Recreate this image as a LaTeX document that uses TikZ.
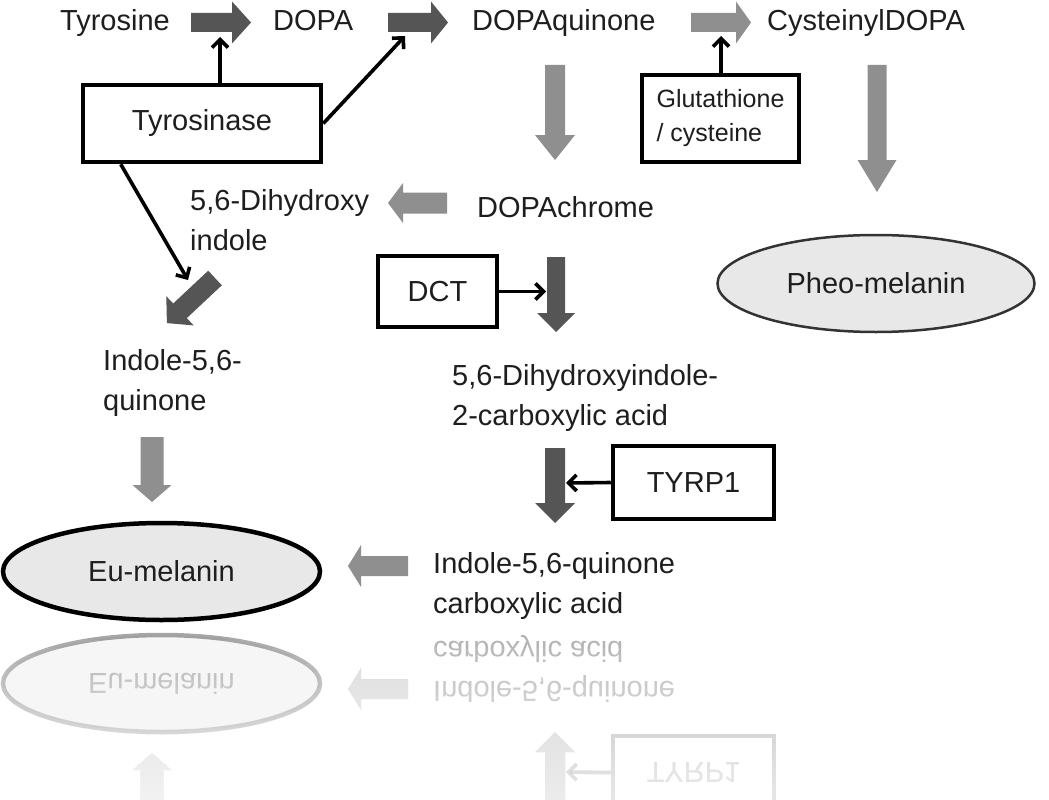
\documentclass[tikz,border=0pt]{standalone}
\usepackage{fontspec}
\setmainfont{Liberation Sans}
\usetikzlibrary{arrows.meta,shapes.geometric,calc}
\definecolor{arrdark}{HTML}{555555}
\definecolor{arrlight}{HTML}{8F8F8F}
\definecolor{ellfill}{HTML}{E8E8E8}
\definecolor{ellstroke}{HTML}{333333}
\definecolor{txt}{HTML}{1E1E1E}
\tikzset{
  lbl/.style={font=\fontsize{29}{40}\selectfont, text=txt, inner sep=0pt},
  lbltwo/.style={font=\fontsize{29}{40}\selectfont, text=txt, inner sep=0pt, align=left},
  enzbox/.style={draw=black, line width=4.5pt, fill=white, inner sep=0pt, font=\fontsize{29}{40}\selectfont, text=txt},
  darkarr/.style={fill=arrdark},
  lightarr/.style={fill=arrlight},
  link/.style={line width=3.6pt, draw=black, -{Straight Barb[length=8pt,width=16pt]}},
  melanin/.style={ellipse, fill=ellfill, inner sep=0pt, minimum width=317pt, minimum height=97pt, font=\fontsize{29}{40}\selectfont, text=txt},
}
% vertical block arrow: style, cx, ytop, yheadstart, ytip, bodyhalf, headhalf
\newcommand{\varr}[7]{\fill[#1] (#2-#6,#3) -- (#2+#6,#3) -- (#2+#6,#4) -- (#2+#7,#4) -- (#2,#5) -- (#2-#7,#4) -- (#2-#6,#4) -- cycle;}
% horizontal block arrow: style, cy, xtail, xheadstart, xtip, bodyhalf, headhalf
\newcommand{\harr}[7]{\fill[#1] (#3,#2-#6) -- (#4,#2-#6) -- (#4,#2-#7) -- (#5,#2) -- (#4,#2+#7) -- (#4,#2+#6) -- (#3,#2+#6) -- cycle;}
\newcommand{\lowerpart}[1]{%
  \node[melanin, draw=black, line width=4.5pt] (#1eu) at (161.5,571.5) {Eu-melanin};
  \harr{lightarr}{566}{408}{361}{348}{10}{21}
  \node[lbltwo, anchor=north west] (#1iqca) at (433,552.5) {Indole-5,6-quinone\\carboxylic acid};
  \varr{darkarr}{555}{448}{503}{523}{10}{20}
  \node[enzbox, minimum width=161pt, minimum height=73pt] (#1tyrp) at (693.5,482.5) {TYRP1};
  \coordinate (#1csix) at (566,483);
  \draw[link] (#1tyrp.west) -- (#1csix);
  \varr{lightarr}{152}{437}{485}{502}{11.5}{19.5}
}
\begin{document}
\begin{tikzpicture}[x=1pt,y=-1pt]
\clip (0,0) rectangle (1049,800);
\fill[white] (0,0) rectangle (1049,800);
% top row
\node[lbl, anchor=base west] (tyrosine) at (60,30.5) {Tyrosine};
\node[lbl, anchor=base west] (dopa) at (273,30.5) {DOPA};
\node[lbl, anchor=base west] (dq) at (472,30.5) {DOPAquinone};
\node[lbl, anchor=base west] (cd) at (767,30.5) {CysteinylDOPA};
\harr{darkarr}{22.5}{191}{232}{251}{9.5}{21}
\harr{darkarr}{22.5}{388}{431}{448}{9.5}{21}
\harr{lightarr}{22.5}{691}{736}{751}{9.5}{21}
% enzymes top
\node[enzbox, minimum width=238pt, minimum height=77pt] (tyr) at (202,123.5) {Tyrosinase};
\node[enzbox, minimum width=157pt, minimum height=87pt, align=left, font=\fontsize{25}{34}\selectfont] (glu) at (720.5,118.5) {Glutathione\\/ cysteine};
\coordinate (cone) at (220,37);
\coordinate (ctwo) at (405,36);
\coordinate (cthree) at (188,280);
\coordinate (cfour) at (721,36);
\draw[link] (tyr.north -| cone) -- (cone);
\draw[link] (tyr.east) -- (ctwo);
\draw[link] ($(tyr.south west)+(40,0)$) -- (cthree);
\draw[link] (glu.north -| cfour) -- (cfour);
% vertical arrows from top row
\varr{lightarr}{555}{65}{135}{160}{10}{20}
\varr{lightarr}{877}{65}{160}{192}{9.5}{19.5}
% middle
\node[lbl, anchor=base west] (dc) at (477,217) {DOPAchrome};
\harr{lightarr}{203}{447}{403}{388}{10.5}{20}
\node[lbltwo, anchor=north west] (dhi) at (190,189.5) {5,6-Dihydroxy\\indole};
\node[melanin, draw=ellstroke, line width=2.5pt] (pheo) at (876,283.5) {Pheo-melanin};
\fill[darkarr] (221.8,285.3) -- (208.2,270.7) -- (173.2,303.5) -- (166.3,296.2) -- (166.9,323.1) -- (193.7,325.4) -- (186.8,318.1) -- cycle;
\node[enzbox, minimum width=119pt, minimum height=71pt] (dct) at (437.5,291.5) {DCT};
\varr{darkarr}{556}{257}{313}{332}{9}{19}
\coordinate (cfive) at (546,291.5);
\draw[link] (dct.east) -- (cfive);
\node[lbltwo, anchor=north west] (iq) at (103,349.5) {Indole-5,6-\\quinone};
\node[lbltwo, anchor=north west] (dhica) at (452,364.5) {5,6-Dihydroxyindole-\\2-carboxylic acid};
% lower part
\lowerpart{}
% reflection
\begin{scope}[shift={(0,1255)}, yscale=-1, transform shape, opacity=0.35]
\lowerpart{r}
\end{scope}
\foreach \i in {0,...,19} {
  \fill[white, opacity=0.07] (0,640+8*\i) rectangle (1049,800);
}
\end{tikzpicture}
\end{document}
